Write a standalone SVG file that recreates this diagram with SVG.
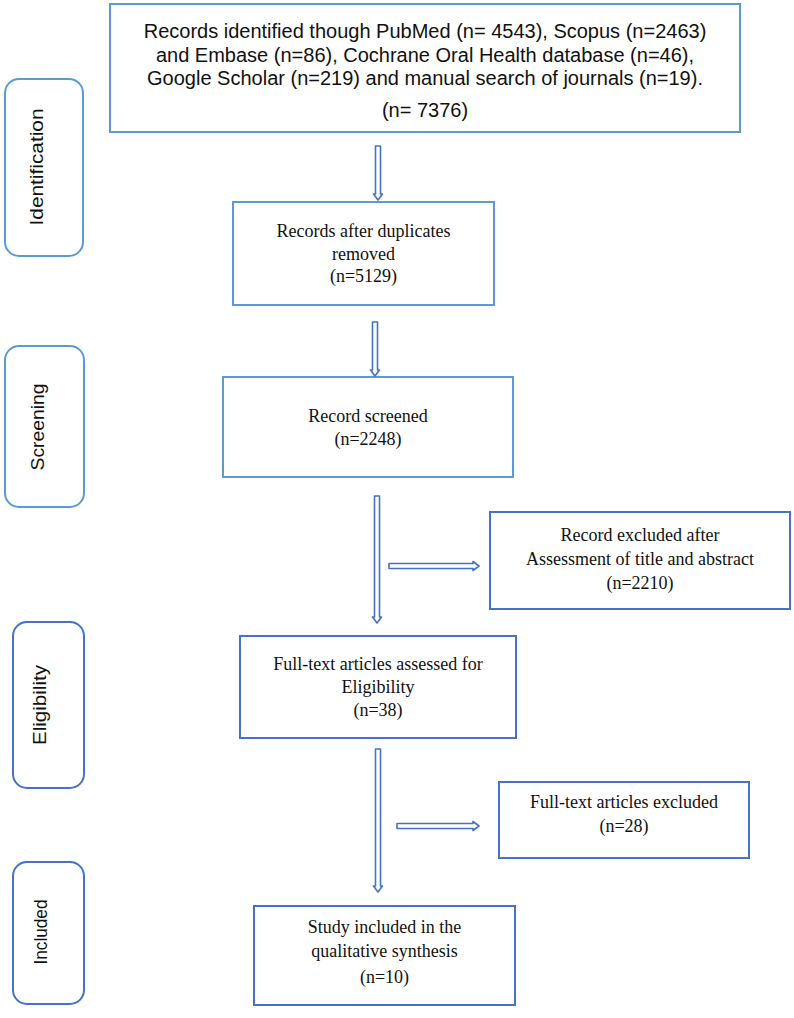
<svg xmlns="http://www.w3.org/2000/svg" width="794" height="1018" viewBox="0 0 794 1018">
<style>
.bx{fill:#fff;stroke:#5b9bd5;stroke-width:2}
.bd{fill:#fff;stroke:#4472c4;stroke-width:2}
.st{fill:#fff;stroke:#5b9bd5;stroke-width:2}
.sd{fill:#fff;stroke:#4472c4;stroke-width:2}
.ar{fill:#fff;stroke:#4472c4;stroke-width:1.6;stroke-linejoin:round}
.sa{font-family:"Liberation Sans",Arial,sans-serif;font-size:20px;fill:#111;text-anchor:middle}
.se{font-family:"Liberation Serif","Times New Roman",serif;font-size:18px;fill:#111;text-anchor:middle}
.vl{font-family:"Liberation Sans",Arial,sans-serif;font-size:19px;fill:#111;text-anchor:middle}
</style>
<rect width="794" height="1018" fill="#fff"/>
<g id="stage-identification">
<rect class="st" x="5" y="79" width="78" height="177" rx="14"/>
<text class="vl" transform="translate(43,167) rotate(-90)" textLength="117" lengthAdjust="spacingAndGlyphs">Identification</text>
</g>
<g id="stage-screening">
<rect class="st" x="5" y="346" width="79" height="161" rx="14"/>
<text class="vl" transform="translate(44,427) rotate(-90)" textLength="87" lengthAdjust="spacingAndGlyphs">Screening</text>
</g>
<g id="stage-eligibility">
<rect class="sd" x="13" y="622" width="71" height="166" rx="14"/>
<text class="vl" transform="translate(46,705) rotate(-90)" textLength="80" lengthAdjust="spacingAndGlyphs">Eligibility</text>
</g>
<g id="stage-included">
<rect class="sd" x="13" y="862" width="71" height="142" rx="14"/>
<text class="vl" transform="translate(47,932) rotate(-90)" textLength="65" lengthAdjust="spacingAndGlyphs">Included</text>
</g>
<g id="node-identified">
<rect class="bx" x="110" y="4" width="630" height="128"/>
<text class="sa" x="425" y="38">Records identified though PubMed (n= 4543), Scopus (n=2463)</text>
<text class="sa" x="425" y="62">and Embase (n=86), Cochrane Oral Health database (n=46),</text>
<text class="sa" x="425" y="85">Google Scholar (n=219) and manual search of journals (n=19).</text>
<text class="sa" x="425" y="117">(n= 7376)</text>
</g>
<g id="node-duplicates">
<rect class="bx" x="233" y="202" width="261" height="103"/>
<text class="se" x="363.5" y="237">Records after duplicates</text>
<text class="se" x="363.5" y="260">removed</text>
<text class="se" x="363.5" y="282">(n=5129)</text>
</g>
<g id="node-screened">
<rect class="bx" x="223" y="377" width="290" height="100"/>
<text class="se" x="368" y="422">Record screened</text>
<text class="se" x="368" y="445">(n=2248)</text>
</g>
<g id="node-excluded1">
<rect class="bd" x="490" y="512" width="300" height="97"/>
<text class="se" x="640" y="541">Record excluded after</text>
<text class="se" x="640" y="565">Assessment of title and abstract</text>
<text class="se" x="640" y="589">(n=2210)</text>
</g>
<g id="node-fulltext">
<rect class="bd" x="240" y="636" width="276" height="102"/>
<text class="se" x="378" y="670">Full-text articles assessed for</text>
<text class="se" x="378" y="693">Eligibility</text>
<text class="se" x="378" y="716">(n=38)</text>
</g>
<g id="node-excluded2">
<rect class="bd" x="499" y="782" width="250" height="76"/>
<text class="se" x="624" y="808">Full-text articles excluded</text>
<text class="se" x="624" y="832">(n=28)</text>
</g>
<g id="node-included">
<rect class="bd" x="254" y="906" width="261" height="99"/>
<text class="se" x="384.5" y="933">Study included in the</text>
<text class="se" x="384.5" y="957">qualitative synthesis</text>
<text class="se" x="384.5" y="983">(n=10)</text>
</g>
<g id="connectors">
<path class="ar" d="M375.5,146 L380.5,146 L380.5,194 L382.5,194 L378,200 L373.5,194 L375.5,194 Z"/>
<path class="ar" d="M372.5,322 L377.5,322 L377.5,370 L379.5,370 L375,376 L370.5,370 L372.5,370 Z"/>
<path class="ar" d="M374.5,496 L379.5,496 L379.5,617 L381.5,617 L377,623 L372.5,617 L374.5,617 Z"/>
<path class="ar" d="M389,563.5 L473,563.5 L473,561.5 L479,566 L473,570.5 L473,568.5 L389,568.5 Z"/>
<path class="ar" d="M375.5,749 L380.5,749 L380.5,886 L382.5,886 L378,892 L373.5,886 L375.5,886 Z"/>
<path class="ar" d="M397,823.5 L473,823.5 L473,821.5 L479,826 L473,830.5 L473,828.5 L397,828.5 Z"/>
</g>
</svg>
